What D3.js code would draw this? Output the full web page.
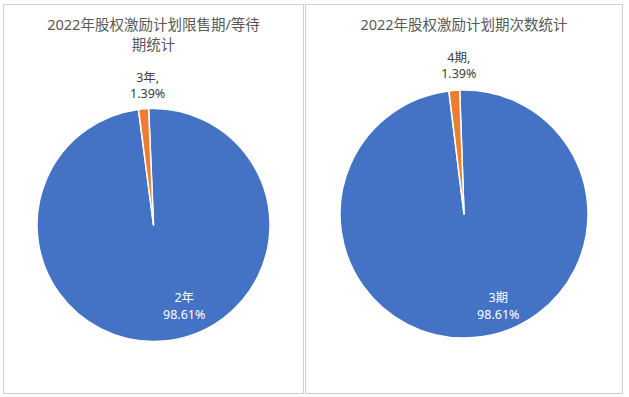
<!DOCTYPE html>
<html>
<head>
<meta charset="utf-8">
<script src="https://cdn.jsdelivr.net/npm/d3@7"></script>
<style>
  html, body { margin: 0; padding: 0; background: #fff; }
  svg { display: block; font-family: "Noto Sans", "Noto Sans CJK SC", sans-serif; }
</style>
</head>
<body>
<div id="chart"></div>
<script>
// data
const lockCategories = ['2年', '3年'];
const lockValues = [98.61, 1.39];
const lockTitle = ['2022年股权激励计划限售期/等待', '期统计'];

const phaseCategories = ['3期', '4期'];
const phaseValues = [98.61, 1.39];
const phaseTitle = ['2022年股权激励计划期次数统计'];

const colors = ['#4472C4', '#ED7D31'];

const width = 629, height = 397;

const svg = d3.select('#chart').append('svg')
  .attr('width', width)
  .attr('height', height);

// two framed panels, each holding one pie
const panels = [
  {x: 3.5, y: 4.5, w: 300, h: 389, cx: 153.5, cy: 225, r: 116.5, rot: -2.4,
   cats: lockCategories, vals: lockValues, title: lockTitle, bigAt: 0.455, bigR: 0.74},
  {x: 305.5, y: 4.5, w: 317, h: 389, cx: 464, cy: 214, r: 124, rot: -2,
   cats: phaseCategories, vals: phaseValues, title: phaseTitle, bigAt: 0.455, bigR: 0.79}
];

panels.forEach(p => {
  svg.append('rect')
    .attr('x', p.x).attr('y', p.y)
    .attr('width', p.w).attr('height', p.h)
    .attr('fill', '#fff')
    .attr('stroke', '#d0d0d0')
    .attr('stroke-width', 1);

  const midX = p.x + p.w / 2;
  svg.selectAll(null)
    .data(p.title)
    .enter().append('text')
      .attr('x', midX)
      .attr('y', (d, i) => 30 + i * 20)
      .attr('text-anchor', 'middle')
      .attr('fill', '#595959')
      .style('font-size', '14.5px')
      .text(d => d);

  const rot = p.rot * Math.PI / 180;
  const pie = d3.pie().sort(null)
    .startAngle(rot)
    .endAngle(rot + 2 * Math.PI);
  const arcs = pie(p.vals);
  const arc = d3.arc().innerRadius(0).outerRadius(p.r);

  const g = svg.append('g')
    .attr('transform', 'translate(' + p.cx + ',' + p.cy + ')');

  g.selectAll('path')
    .data(arcs)
    .enter().append('path')
      .attr('d', arc)
      .attr('fill', (d, i) => colors[i])
      .attr('stroke', '#fff')
      .attr('stroke-width', 1.5)
      .attr('stroke-linejoin', 'round');

  // data labels: big slice inside, small slice outside above
  arcs.forEach((d, i) => {
    const big = (d.endAngle - d.startAngle) > Math.PI;
    let a, rr;
    if (big) {
      a = d.startAngle + (d.endAngle - d.startAngle) * p.bigAt;
      rr = p.r * p.bigR;
    } else {
      a = d.endAngle;
      rr = p.r * 1.2;
    }
    const lx = Math.sin(a) * rr;
    const ly = -Math.cos(a) * rr;
    const lines = big
      ? [p.cats[i], p.vals[i].toFixed(2) + '%']
      : [p.cats[i] + ',', p.vals[i].toFixed(2) + '%'];
    g.selectAll(null)
      .data(lines)
      .enter().append('text')
        .attr('x', lx)
        .attr('y', (s, j) => ly - 8 + 4.5 + j * 16.5)
        .attr('text-anchor', 'middle')
        .attr('fill', big ? '#ffffff' : '#404040')
        .style('font-size', '12.5px')
        .text(s => s);
  });
});
</script>
</body>
</html>
